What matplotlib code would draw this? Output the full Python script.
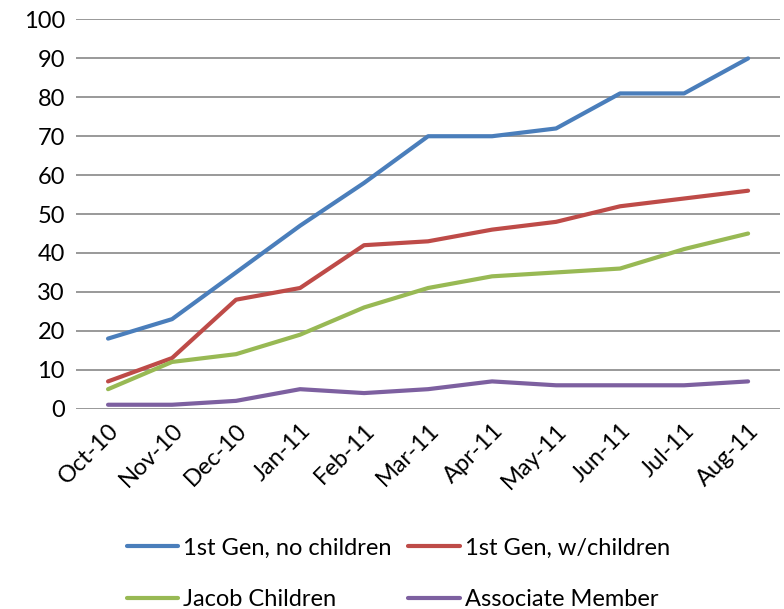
import matplotlib.pyplot as plt
import numpy as np

months = ["Oct-10", "Nov-10", "Dec-10", "Jan-11", "Feb-11", "Mar-11",
          "Apr-11", "May-11", "Jun-11", "Jul-11", "Aug-11"]
gen1_no_children = [18, 23, 35, 47, 58, 70, 70, 72, 81, 81, 90]
gen1_w_children = [7, 13, 28, 31, 42, 43, 46, 48, 52, 54, 56]
jacob_children = [5, 12, 14, 19, 26, 31, 34, 35, 36, 41, 45]
associate_member = [1, 1, 2, 5, 4, 5, 7, 6, 6, 6, 7]

plt.rcParams['font.family'] = ['Lato', 'DejaVu Sans']

fig = plt.figure(figsize=(7.84, 6.09), dpi=100)
ax = fig.add_axes([0.097, 0.329, 0.898, 0.639])

x = np.arange(len(months))
l1, = ax.plot(x, gen1_no_children, color='#4A7EBB', lw=3, label='1st Gen, no children', solid_capstyle='round')
l2, = ax.plot(x, gen1_w_children, color='#BE4B48', lw=3, label='1st Gen, w/children', solid_capstyle='round')
l3, = ax.plot(x, jacob_children, color='#98B954', lw=3, label='Jacob Children', solid_capstyle='round')
l4, = ax.plot(x, associate_member, color='#7D60A0', lw=3, label='Associate Member', solid_capstyle='round')

ax.set_xlim(-0.5, len(months) - 0.5)
ax.set_ylim(0, 100)
ax.set_yticks(range(0, 101, 10))
ax.yaxis.grid(True, color='#888888', lw=1.2)
ax.set_axisbelow(True)
for s in ax.spines.values():
    s.set_visible(False)
ax.tick_params(axis='both', length=0, labelsize=17, pad=8)
ax.set_xticks(x)
ax.set_xticklabels(months, rotation=45, ha='right', rotation_mode='anchor')
ax.tick_params(axis='x', pad=8)

# row-wise order like the original legend
fig.legend([l1, l3, l2, l4], [l.get_label() for l in [l1, l3, l2, l4]],
           loc='lower center', bbox_to_anchor=(0.508, -0.037), ncol=2, frameon=False,
           fontsize=17, handlelength=2.2, handletextpad=0.2, columnspacing=0.7,
           labelspacing=1.3)

fig.savefig('out.png', dpi=100)
